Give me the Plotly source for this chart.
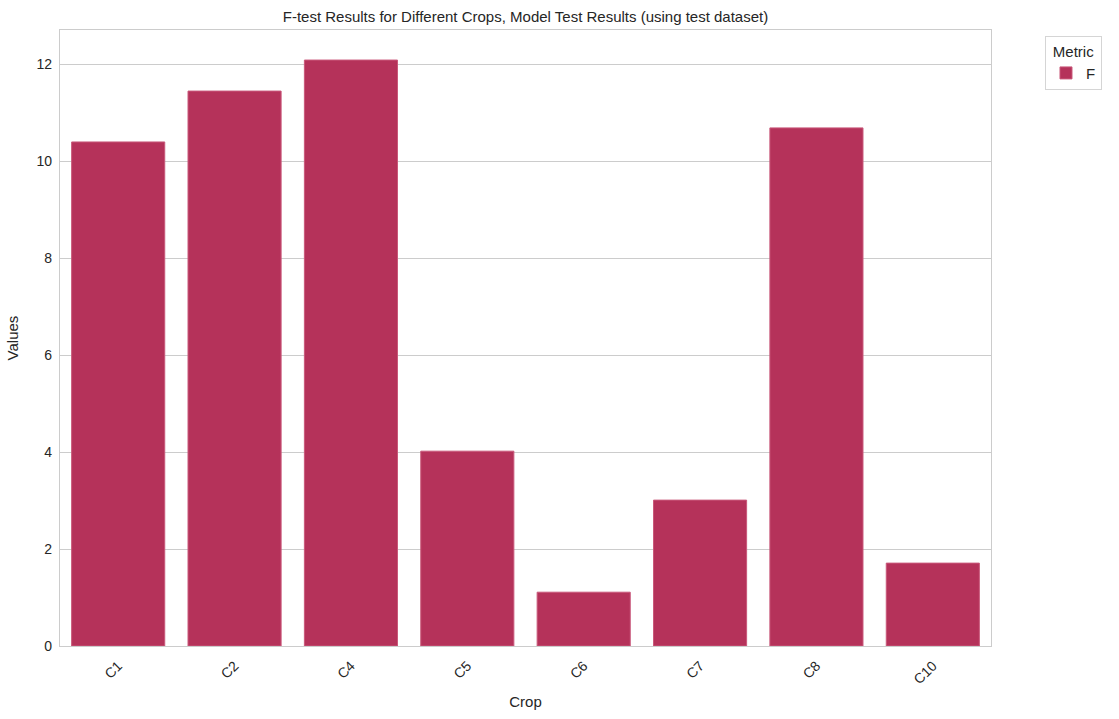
import plotly.graph_objects as go

crops = ["C1", "C2", "C4", "C5", "C6", "C7", "C8", "C10"]
f_values = [10.40, 11.45, 12.09, 4.02, 1.11, 3.01, 10.69, 1.71]
metric_name = "F"

bar_color = "#B5325A"
edge_color = "#C9587A"
text_color = "#262626"
grid_color = "#CCCCCC"
font_family = "Liberation Sans, Arial, sans-serif"

fig = go.Figure()
fig.add_trace(go.Bar(
    x=crops, y=f_values, name=metric_name,
    marker=dict(color=bar_color, line=dict(color=edge_color, width=1)),
    showlegend=True,
))

fig.update_layout(
    width=1119, height=719,
    margin=dict(l=60, r=128, t=30, b=73),
    paper_bgcolor="white", plot_bgcolor="white",
    font=dict(family=font_family, color=text_color, size=14),
    bargap=0.2,
    title=dict(
        text="F-test Results for Different Crops, Model Test Results (using test dataset)",
        x=(60 + 991) / 2 / 1119, xanchor="center",
        y=1 - 17 / 719, yanchor="middle",
        font=dict(size=15, color=text_color),
    ),
    legend=dict(
        title=dict(text="Metric", side="top center", font=dict(size=15)),
        x=1.058, xanchor="left", y=0.99, yanchor="top",
        bordercolor="#D5D5D5", borderwidth=1,
        font=dict(size=15),
        bgcolor="white",
    ),
)

fig.update_xaxes(
    title=dict(text="Crop", font=dict(size=15), standoff=10),
    tickangle=-45,
    showgrid=False,
    showline=True, linecolor="#CCCCCC", linewidth=1.3, mirror=True,
    ticks="", tickfont=dict(size=14), ticklabelstandoff=5,
)
fig.update_yaxes(
    title=dict(text="Values", font=dict(size=15), standoff=14),
    range=[0, 12.71],
    tickvals=[0, 2, 4, 6, 8, 10, 12],
    showgrid=True, gridcolor=grid_color, gridwidth=1.2,
    showline=True, linecolor="#CCCCCC", linewidth=1.3, mirror=True,
    zeroline=False,
    ticks="", tickfont=dict(size=14), ticklabelstandoff=4,
)

fig.write_html("out.html")
